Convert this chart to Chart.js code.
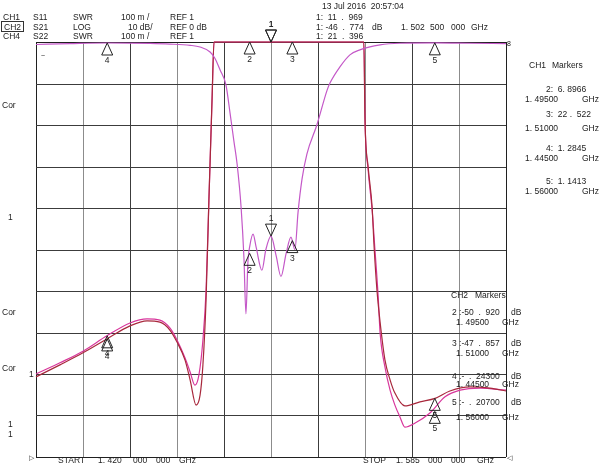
<!DOCTYPE html>
<html>
<head>
<meta charset="utf-8">
<script src="https://cdn.jsdelivr.net/npm/chart.js@4/dist/chart.umd.min.js"></script>
<style>
  html, body { margin: 0; padding: 0; background: #fff; }
  canvas { display: block; }
</style>
</head>
<body>
<canvas id="vna" width="600" height="464"></canvas>
<script>
// sweep (GHz)
var startFreq = 1.420;
var stopFreq = 1.585;

// CH2  S21  LOG  10 dB/div  REF 0 dB
var s21Freq = [1.4200, 1.4319, 1.4449, 1.4600, 1.4670, 1.4741, 1.4776, 1.4811, 1.4828, 1.4846,
               1.4867, 1.4881, 1.4895, 1.4906, 1.4920, 1.4930, 1.4937, 1.4944, 1.4951, 1.4962,
               1.4973, 1.4993, 1.5007, 1.5025, 1.5043, 1.5060, 1.5078, 1.5095, 1.5109, 1.5120,
               1.5134, 1.5151, 1.5186, 1.5222, 1.5232, 1.5267, 1.5302, 1.5337, 1.5408, 1.5478,
               1.5601, 1.5724, 1.5850];
var s21Db = [-0.6, -0.4, -0.24, -0.35, -0.5, -0.8, -1.2, -2.4, -3.9, -6.7,
             -10.4, -17, -24, -29.4, -39.8, -52, -65.5, -53, -49, -46.3,
             -49.5, -55, -50, -46.8, -51.5, -56.5, -51, -47, -50, -41,
             -33, -27, -20, -11.6, -9.9, -6.0, -3.1, -1.9, -0.7, -0.3,
             -0.21, -0.3, -0.4];

// CH1  S11  SWR  100 m/div  REF 1 (values above 2 sit on the top edge)
var s11Freq = [1.4200, 1.4284, 1.4365, 1.4449, 1.4530, 1.4590, 1.4635, 1.4670, 1.4695, 1.4723,
               1.4741, 1.4762, 1.4776, 1.4786, 1.4797, 1.4807, 1.4818, 1.4825, 1.5351, 1.5355,
               1.5366, 1.5380, 1.5387, 1.5397, 1.5408, 1.5425, 1.5443, 1.5460, 1.5495, 1.5548,
               1.5601, 1.5653, 1.5724, 1.5794, 1.5850];
var s11Swr = [1.193, 1.222, 1.251, 1.2845, 1.316, 1.328, 1.325, 1.306, 1.277, 1.234,
              1.186, 1.125, 1.149, 1.222, 1.378, 1.619, 1.860, 2.0, 2.0, 1.812,
              1.699, 1.602, 1.506, 1.402, 1.325, 1.234, 1.186, 1.154, 1.123, 1.133,
              1.1413, 1.159, 1.169, 1.166, 1.159];

// CH4  S22  SWR  100 m/div  REF 1
var s22Freq = [1.4200, 1.4284, 1.4365, 1.4449, 1.4530, 1.4590, 1.4635, 1.4670, 1.4695, 1.4723,
               1.4741, 1.4758, 1.4772, 1.4786, 1.4797, 1.4807, 1.4818, 1.4825, 1.5351, 1.5355,
               1.5366, 1.5380, 1.5390, 1.5401, 1.5408, 1.5425, 1.5443, 1.5460, 1.5478, 1.5495,
               1.5531, 1.5583, 1.5636, 1.5689, 1.5759, 1.5850];
var s22Swr = [1.200, 1.227, 1.255, 1.292, 1.323, 1.333, 1.330, 1.311, 1.282, 1.239,
              1.205, 1.173, 1.198, 1.282, 1.402, 1.619, 1.860, 2.0, 2.0, 1.812,
              1.692, 1.595, 1.499, 1.390, 1.299, 1.217, 1.161, 1.125, 1.096, 1.072,
              1.082, 1.106, 1.145, 1.161, 1.166, 1.161];

// markers 1..5
var markerFreq = [1.5025, 1.495, 1.510, 1.445, 1.560];
var ch1Marker = [11.969, 6.8966, 22.522, 1.2845, 1.1413];
var ch2Marker = [-46.774, -50.920, -47.857, -0.243, -0.207];
var ch4Marker = [21.396, null, null, 1.292, 1.11];

function pts(xs, ys) {
    return xs.map(function (x, i) { return { x: x, y: ys[i] }; });
}

var FONT = '8.5px "Liberation Sans", Arial, sans-serif';
var TXT = '#222';

// header / side / footer texts: [text, x, baseline]
var labels = [
    ['CH1', 3, 20], ['S11', 33, 20], ['SWR', 73, 20], ['100 m /', 121, 20], ['REF 1', 170, 20],
    ['CH2', 4, 29.5], ['S21', 33, 29.5], ['LOG', 73, 29.5], ['10 dB/', 128, 29.5], ['REF 0 dB', 170, 29.5],
    ['CH4', 3, 39], ['S22', 33, 39], ['SWR', 73, 39], ['100 m /', 121, 39], ['REF 1', 170, 39],
    ['13 Jul 2016  20:57:04', 322, 9],
    ['1:  11  .  969', 316, 20],
    ['1: -46  .  774', 316, 29.5], ['dB', 372, 29.5], ['1. 502', 401, 29.5], ['500', 430, 29.5], ['000', 451, 29.5], ['GHz', 471, 29.5],
    ['1:  21  .  396', 316, 39],
    ['CH1', 529, 68], ['Markers', 552, 68],
    ['2:  6. 8966', 546, 92], ['1. 49500', 525, 102], ['GHz', 582, 102],
    ['3:  22 .  522', 546, 117], ['1. 51000', 525, 131], ['GHz', 582, 131],
    ['4:  1. 2845', 546, 151], ['1. 44500', 525, 161], ['GHz', 582, 161],
    ['5:  1. 1413', 546, 184], ['1. 56000', 525, 194], ['GHz', 582, 194],
    ['CH2', 451, 298], ['Markers', 475, 298],
    ['2 :-50  .  920', 452, 315], ['dB', 511, 315], ['1. 49500', 456, 325], ['GHz', 502, 325],
    ['3 :-47  .  857', 452, 346], ['dB', 511, 346], ['1. 51000', 456, 356], ['GHz', 502, 356],
    ['4 :-  .  24300', 452, 379], ['dB', 511, 379], ['1. 44500', 456, 387], ['GHz', 502, 387],
    ['5 :-  .  20700', 452, 405], ['dB', 511, 405], ['1. 56000', 456, 420], ['GHz', 502, 420],
    ['Cor', 2, 108], ['1', 8, 220], ['Cor', 2, 315], ['Cor', 2, 371], ['1', 29, 377], ['1', 8, 427], ['1', 8, 437],
    ['START', 58, 463], ['1. 420', 98, 463], ['000', 133, 463], ['000', 156, 463], ['GHz', 179, 463],
    ['STOP', 363, 463], ['1. 585', 396, 463], ['000', 428, 463], ['000', 451, 463], ['GHz', 477, 463]
];

var gridPlugin = {
    id: 'vnaGrid',
    beforeDatasetsDraw: function (chart) {
        var ctx = chart.ctx, a = chart.chartArea;
        var xs = chart.scales.x, ys = chart.scales.ySwr;
        ctx.save();
        ctx.lineWidth = 1;
        for (var i = 0; i <= 10; i++) {
            var px = Math.round(xs.getPixelForValue(xs.min + i * (xs.max - xs.min) / 10)) + 0.5;
            ctx.strokeStyle = (i === 0 || i === 10) ? '#202020' : (i % 2 ? '#8c8c8c' : '#3c3c3c');
            ctx.beginPath(); ctx.moveTo(px, a.top); ctx.lineTo(px, a.bottom); ctx.stroke();
        }
        for (var j = 0; j <= 10; j++) {
            var py = Math.round(ys.getPixelForValue(ys.min + j * (ys.max - ys.min) / 10)) + 0.5;
            ctx.strokeStyle = (j === 0 || j === 10) ? '#202020' : '#3c3c3c';
            ctx.beginPath(); ctx.moveTo(a.left, py); ctx.lineTo(a.right, py); ctx.stroke();
        }
        ctx.restore();
    },
    afterDraw: function (chart) {
        var ctx = chart.ctx;
        var xs = chart.scales.x;
        ctx.save();
        ctx.font = FONT;
        ctx.fillStyle = TXT;
        ctx.textBaseline = 'alphabetic';
        labels.forEach(function (l) { ctx.fillText(l[0], l[1], l[2]); });

        // CH2 active-channel box
        ctx.strokeStyle = '#333';
        ctx.lineWidth = 1;
        ctx.strokeRect(1.5, 21.5, 22, 10);

        // small symbols
        ctx.font = '7px "Liberation Sans", Arial, sans-serif';
        ctx.fillText('~', 41, 58);
        ctx.fillText('\u25B7', 29, 460);
        ctx.fillText('\u25C1', 507, 460);
        ctx.fillText('8', 507, 46);

        // markers
        ctx.font = FONT;
        ctx.textAlign = 'center';
        ctx.strokeStyle = '#222';
        function drawMarkers(vals, scale) {
            vals.forEach(function (v, i) {
                if (v === null) return;
                var c = Math.min(scale.max, Math.max(scale.min, v));
                var px = xs.getPixelForValue(markerFreq[i]);
                var py = scale.getPixelForValue(c);
                ctx.beginPath();
                if (i === 0) {
                    ctx.moveTo(px, py); ctx.lineTo(px - 5.5, py - 12); ctx.lineTo(px + 5.5, py - 12);
                    ctx.closePath(); ctx.stroke();
                    ctx.fillText(String(i + 1), px, py - 15);
                } else {
                    ctx.moveTo(px, py); ctx.lineTo(px - 5.5, py + 12); ctx.lineTo(px + 5.5, py + 12);
                    ctx.closePath(); ctx.stroke();
                    ctx.fillText(String(i + 1), px, py + 20);
                }
            });
        }
        drawMarkers(ch1Marker, chart.scales.ySwr);
        drawMarkers(ch2Marker, chart.scales.yDb);
        drawMarkers(ch4Marker, chart.scales.ySwr);
        ctx.restore();
    }
};

new Chart(document.getElementById('vna'), {
    type: 'line',
    data: {
        datasets: [
            { label: 'S21', data: pts(s21Freq, s21Db), yAxisID: 'yDb', borderColor: '#c458c8', borderWidth: 1.2, pointRadius: 0, cubicInterpolationMode: 'monotone', clip: 3 },
            { label: 'S11', data: pts(s11Freq, s11Swr), yAxisID: 'ySwr', borderColor: '#a8283c', borderWidth: 1.2, pointRadius: 0, cubicInterpolationMode: 'monotone', clip: 3 },
            { label: 'S22', data: pts(s22Freq, s22Swr), yAxisID: 'ySwr', borderColor: '#d8369c', borderWidth: 1.2, pointRadius: 0, cubicInterpolationMode: 'monotone', clip: 3 }
        ]
    },
    options: {
        responsive: false,
        animation: false,
        devicePixelRatio: 1,
        layout: { padding: { left: 36, top: 42, right: 94, bottom: 7 } },
        plugins: { legend: { display: false }, tooltip: { enabled: false } },
        scales: {
            x: { type: 'linear', min: startFreq, max: stopFreq, display: false },
            ySwr: { type: 'linear', min: 1, max: 2, display: false },
            yDb: { type: 'linear', min: -100, max: 0, display: false }
        }
    },
    plugins: [gridPlugin]
});
</script>
</body>
</html>
